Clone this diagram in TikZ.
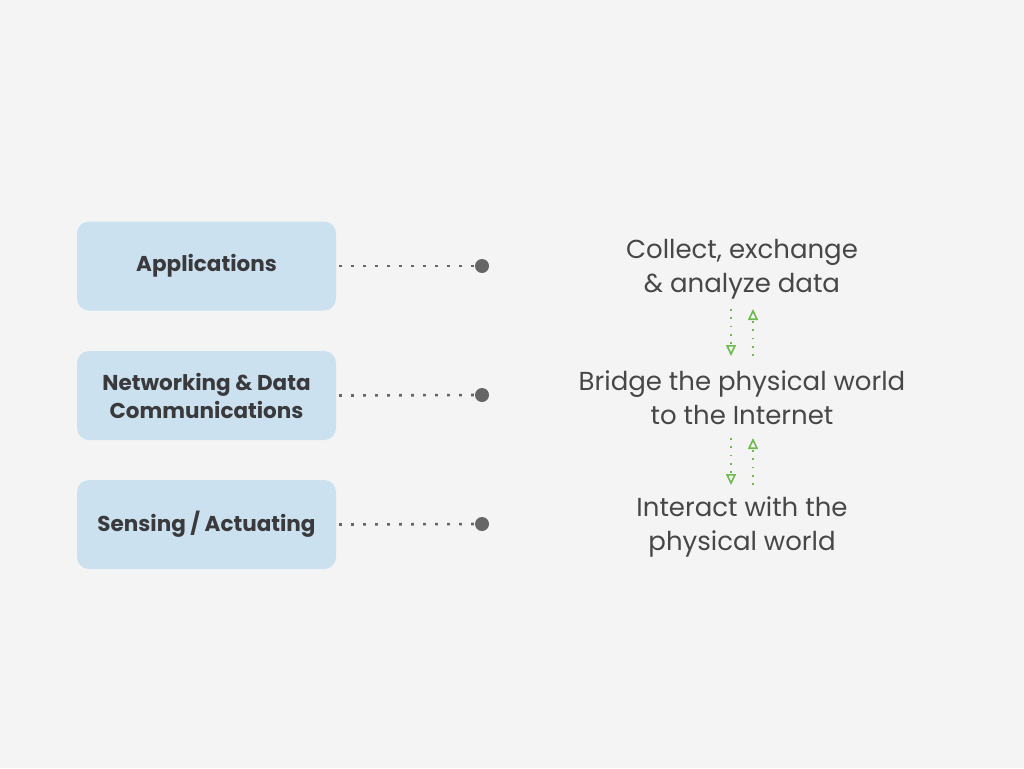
\documentclass[tikz,border=0pt]{standalone}
\usepackage{fontspec}
\setmainfont{Poppins}
\usetikzlibrary{arrows.meta}
\definecolor{bg}{HTML}{F4F4F4}
\definecolor{boxfill}{HTML}{CCE1EF}
\definecolor{boxtext}{HTML}{3A3A3C}
\definecolor{dotgray}{HTML}{666666}
\definecolor{rtext}{HTML}{474747}
\definecolor{arrgreen}{HTML}{6DBB4E}
\tikzset{
  layer/.style={fill=boxfill, rounded corners=12pt, minimum width=259pt, minimum height=89pt, inner sep=0pt, text=boxtext, font=\fontsize{21.5}{28}\selectfont\bfseries, align=center},
  desc/.style={text=rtext, font=\fontsize{26}{34}\selectfont, align=center, inner sep=0pt},
  dotline/.style={dotgray, line width=2.6pt, dash pattern=on 2.6pt off 9.4pt},
  enddot/.style={circle, fill=dotgray, minimum size=14pt, inner sep=0pt},
  flow/.style={arrgreen, line width=1.8pt, dash pattern=on 1.8pt off 6.5pt, -{Triangle[open, length=11pt, width=10pt, line width=1.6pt]}}
}
\begin{document}
\begin{tikzpicture}[x=1pt,y=-1pt]
\fill[bg] (0,0) rectangle (1024,768);
\useasboundingbox (0,0) rectangle (1024,768);
\node[layer] (app) at (206.5,266) {Applications};
\node[layer] (net) at (206.5,395.5) {Networking \& Data\\Communications};
\node[layer] (sen) at (206.5,524.5) {Sensing / Actuating};
\node[enddot] (d1) at (482,266) {};
\node[enddot] (d2) at (482,395) {};
\node[enddot] (d3) at (482,524) {};
\draw[dotline] (app.east) ++(3,0) -- (d1.west);
\draw[dotline] (net.east) ++(3,0) -- (d2.west);
\draw[dotline] (sen.east) ++(3,0) -- (d3.west);
\node[desc] (t1) at (742,269) {Collect, exchange\\\& analyze data};
\node[desc] (t2) at (742,398) {Bridge the physical world\\to the Internet};
\node[desc] (t3) at (742,527) {Interact with the\\physical world};
\coordinate (a1s) at (731,309);
\coordinate (a1e) at (731,356);
\coordinate (b1s) at (753,356);
\coordinate (b1e) at (753,309);
\coordinate (a2s) at (731,438);
\coordinate (a2e) at (731,485);
\coordinate (b2s) at (753,485);
\coordinate (b2e) at (753,438);
\draw[flow] (a1s) -- (a1e);
\draw[flow] (b1s) -- (b1e);
\draw[flow] (a2s) -- (a2e);
\draw[flow] (b2s) -- (b2e);
\end{tikzpicture}
\end{document}
